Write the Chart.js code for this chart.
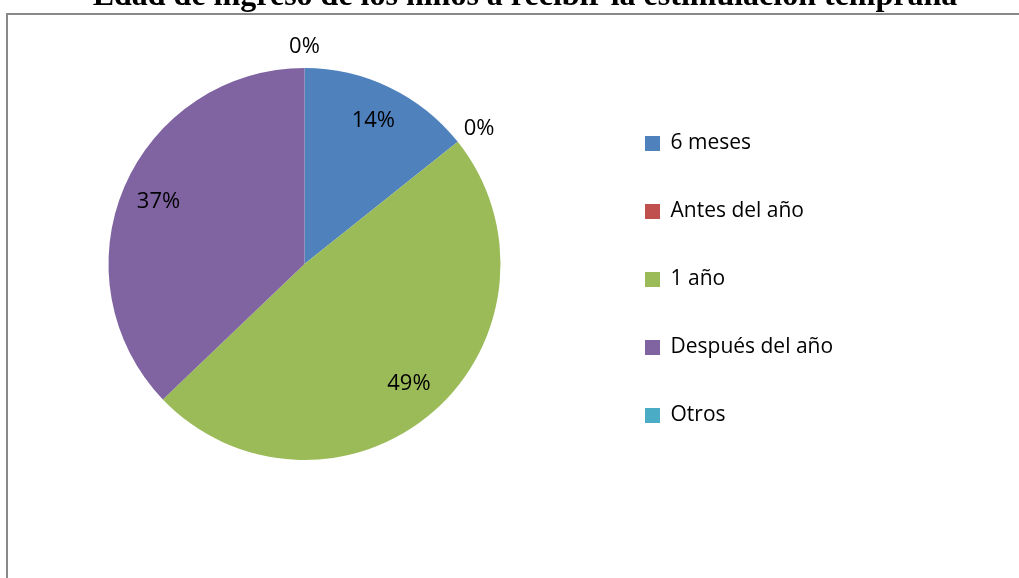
<!DOCTYPE html>
<html>
<head>
<meta charset="utf-8">
<script src="https://cdn.jsdelivr.net/npm/chart.js@4.4.1/dist/chart.umd.min.js"></script>
<style>
  html, body { margin: 0; padding: 0; background: #fff; }
  #wrap { position: relative; width: 1019px; height: 578px; }
</style>
</head>
<body>
<div id="wrap"><canvas id="pie"></canvas></div>
<script>
const TITLE = "Edad de ingreso de los niños a recibir la estimulación temprana";
const CATEGORIES = ["6 meses", "Antes del año", "1 año", "Después del año", "Otros"];
const COUNTS = [5, 0, 17, 13, 0];
const COLORS = ["#4F81BD", "#C0504D", "#9BBB59", "#8064A2", "#4BACC6"];

const FONT = "'Open Sans'";
const LEGEND_FONT = 21;
const LEGEND_PAD = 47;
const LEGEND_BOX = 15;

// legend width is needed up front so the pie stays where it is in the picture
// (same sum Chart.js does for a vertical legend: padding + item + 10)
function legendWidth() {
  const c = document.createElement("canvas").getContext("2d");
  c.font = LEGEND_FONT + "px " + FONT;
  const maxText = Math.max(...CATEGORIES.map(t => c.measureText(t).width));
  return LEGEND_PAD + LEGEND_BOX + LEGEND_FONT / 2 + maxText + 10;
}

// grey frame, cut off at the right and bottom like the reference
const frame = {
  id: "frame",
  beforeDraw(chart) {
    const { ctx, width, height } = chart;
    ctx.save();
    ctx.strokeStyle = "#898989";
    ctx.lineWidth = 2;
    ctx.beginPath();
    ctx.moveTo(7, height + 2);
    ctx.lineTo(7, 14);
    ctx.lineTo(width + 2, 14);
    ctx.stroke();
    ctx.restore();
  }
};

// title sits mostly above the top edge
const topTitle = {
  id: "topTitle",
  afterDraw(chart) {
    const { ctx } = chart;
    ctx.save();
    ctx.font = "bold 32px 'Liberation Serif'";
    ctx.fillStyle = "#000";
    ctx.textAlign = "center";
    ctx.textBaseline = "alphabetic";
    ctx.fillText(TITLE, 525, 5);
    ctx.restore();
  }
};

// percentage labels: inside the slice, or just outside for empty ones
const pieLabels = {
  id: "pieLabels",
  afterDatasetsDraw(chart) {
    const { ctx } = chart;
    const meta = chart.getDatasetMeta(0);
    const total = COUNTS.reduce((a, b) => a + b, 0);
    ctx.save();
    ctx.font = "22px " + FONT;
    ctx.fillStyle = "#000";
    ctx.textAlign = "center";
    ctx.textBaseline = "middle";
    meta.data.forEach((arc, i) => {
      const { x, y, startAngle, endAngle, outerRadius } =
        arc.getProps(["x", "y", "startAngle", "endAngle", "outerRadius"], true);
      const mid = (startAngle + endAngle) / 2;
      const text = Math.round(COUNTS[i] / total * 100) + "%";
      let tx, ty;
      if (COUNTS[i] > 0) {
        const r = outerRadius * 0.81;
        tx = x + Math.cos(mid) * r;
        ty = y + Math.sin(mid) * r;
      } else {
        const r = outerRadius + 12;
        const w = ctx.measureText(text).width;
        tx = x + Math.cos(mid) * r + Math.cos(mid) * w / 2;
        ty = y + Math.sin(mid) * r + Math.sin(mid) * 9;
      }
      ctx.fillText(text, tx, ty);
    });
    ctx.restore();
  }
};

function draw() {
  const padLeft = 11;
  const padRight = 1019 - (645 - LEGEND_PAD) - legendWidth();

  new Chart(document.getElementById("pie"), {
    type: "pie",
    data: {
      labels: CATEGORIES,
      datasets: [{
        data: COUNTS,
        backgroundColor: COLORS,
        borderWidth: 0
      }]
    },
    options: {
      responsive: true,
      maintainAspectRatio: false,
      animation: false,
      radius: 196,
      layout: { padding: { left: padLeft, right: padRight, top: 30, bottom: 80 } },
      plugins: {
        tooltip: { enabled: false },
        legend: {
          position: "right",
          align: "start",
          title: { display: true, text: "", font: { size: 10 }, padding: { top: 44, bottom: 0 } },
          labels: {
            color: "#000",
            font: { family: FONT, size: LEGEND_FONT },
            boxWidth: LEGEND_BOX,
            boxHeight: LEGEND_BOX,
            padding: LEGEND_PAD
          }
        }
      }
    },
    plugins: [frame, pieLabels, topTitle]
  });
}

Promise.all([
  document.fonts.load(LEGEND_FONT + "px " + FONT),
  document.fonts.load("bold 32px 'Liberation Serif'")
]).then(draw, draw);
</script>
</body>
</html>
